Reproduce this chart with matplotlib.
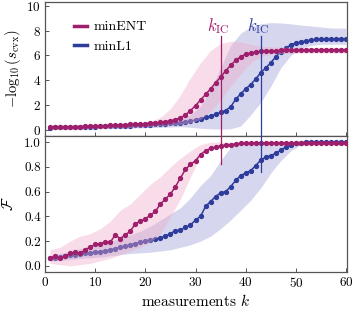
import matplotlib
matplotlib.use("Agg")
import matplotlib.pyplot as plt
from matplotlib.lines import Line2D
import numpy as np

plt.rcParams['font.family'] = 'cmr10'
plt.rcParams['mathtext.fontset'] = 'cm'
plt.rcParams['axes.formatter.use_mathtext'] = True

k = np.arange(1, 61)

ent_s = [0.20, 0.21, 0.22, 0.23, 0.24, 0.25, 0.26, 0.27, 0.28, 0.30,
         0.31, 0.33, 0.35, 0.37, 0.39, 0.41, 0.43, 0.45, 0.47, 0.50,
         0.53, 0.56, 0.60, 0.65, 0.72, 0.82, 0.95, 1.20, 1.55, 1.95,
         2.40, 2.85, 3.30, 3.80, 4.25, 4.75, 5.20, 5.60, 5.90, 6.10,
         6.20, 6.27, 6.32, 6.35, 6.37, 6.38, 6.40, 6.41, 6.42, 6.42,
         6.43, 6.43, 6.44, 6.44, 6.44, 6.45, 6.45, 6.45, 6.45, 6.45]
l1_s = [0.18, 0.19, 0.20, 0.21, 0.22, 0.22, 0.23, 0.24, 0.25, 0.26,
        0.27, 0.28, 0.29, 0.30, 0.31, 0.33, 0.34, 0.36, 0.38, 0.40,
        0.42, 0.44, 0.46, 0.49, 0.52, 0.55, 0.58, 0.63, 0.70, 0.80,
        0.90, 1.00, 1.10, 1.25, 1.40, 1.55, 1.85, 2.45, 2.90, 3.30,
        3.65, 4.10, 4.60, 5.00, 5.40, 5.90, 6.30, 6.60, 6.85, 7.00,
        7.10, 7.15, 7.25, 7.30, 7.30, 7.32, 7.32, 7.33, 7.33, 7.33]
ent_f = [0.06, 0.08, 0.06, 0.08, 0.10, 0.11, 0.10, 0.13, 0.15, 0.175,
         0.18, 0.19, 0.19, 0.25, 0.22, 0.25, 0.28, 0.34, 0.36, 0.38,
         0.41, 0.44, 0.50, 0.54, 0.58, 0.64, 0.71, 0.78, 0.82, 0.85,
         0.90, 0.93, 0.95, 0.96, 0.97, 0.975, 0.98, 0.985, 0.99, 0.99,
         0.992, 0.995, 0.995, 0.995, 0.995, 0.995, 0.995, 0.995, 0.995, 0.995,
         0.995, 0.995, 0.995, 0.995, 0.995, 0.995, 0.995, 0.995, 0.995, 0.995]
l1_f = [0.06, 0.065, 0.07, 0.08, 0.085, 0.09, 0.095, 0.10, 0.105, 0.11,
        0.115, 0.12, 0.13, 0.14, 0.15, 0.16, 0.17, 0.18, 0.19, 0.20,
        0.21, 0.215, 0.225, 0.24, 0.26, 0.285, 0.29, 0.31, 0.33, 0.37,
        0.40, 0.48, 0.52, 0.56, 0.59, 0.60, 0.64, 0.69, 0.73, 0.75,
        0.77, 0.81, 0.855, 0.88, 0.89, 0.91, 0.935, 0.96, 0.975, 0.99,
        0.995, 1.0, 1.0, 1.0, 1.0, 1.0, 1.0, 1.0, 1.0, 1.0]

# uncertainty bands, sampled every other measurement
kb = [1, 3, 5, 7, 9, 11, 13, 15, 17, 19, 21, 23, 25, 27, 29, 31, 33, 35, 37, 39,
      41, 43, 45, 47, 49, 51, 53, 55, 57, 60]
ent_s_hi = [0.35, 0.37, 0.39, 0.41, 0.43, 0.45, 0.48, 0.51, 0.55, 0.60,
            0.70, 1.00, 1.70, 2.80, 4.20, 5.40, 6.40, 6.95, 7.15, 7.10,
            6.90, 6.75, 6.70, 6.68, 6.66, 6.65, 6.65, 6.65, 6.65, 6.65]
ent_s_lo = [0.05, 0.06, 0.07, 0.08, 0.09, 0.10, 0.12, 0.14, 0.17, 0.20,
            0.25, 0.30, 0.35, 0.40, 0.55, 0.85, 1.50, 2.40, 3.50, 4.50,
            5.40, 5.90, 6.10, 6.15, 6.18, 6.20, 6.20, 6.20, 6.20, 6.20]
l1_s_hi = [0.30, 0.32, 0.34, 0.36, 0.38, 0.40, 0.43, 0.46, 0.50, 0.55,
           0.60, 0.66, 0.75, 0.90, 1.20, 1.90, 3.20, 5.00, 6.80, 7.80,
           8.30, 8.55, 8.65, 8.62, 8.55, 8.45, 8.38, 8.30, 8.22, 8.20]
l1_s_lo = [0.05, 0.06, 0.07, 0.08, 0.09, 0.10, 0.11, 0.12, 0.14, 0.16,
           0.18, 0.20, 0.22, 0.25, 0.20, 0.12, 0.08, 0.05, 0.08, 0.30,
           1.20, 2.20, 3.50, 5.00, 6.00, 6.60, 6.80, 6.90, 6.90, 6.90]
ent_f_hi = [0.13, 0.15, 0.20, 0.24, 0.26, 0.30, 0.36, 0.45, 0.50, 0.58,
            0.66, 0.72, 0.80, 0.87, 0.93, 0.98, 1.00, 1.00, 1.00, 1.00,
            1.00, 1.00, 1.00, 1.00, 1.00, 1.00, 1.00, 1.00, 1.00, 1.00]
ent_f_lo = [0.02, 0.01, 0.00, 0.01, 0.02, 0.04, 0.06, 0.09, 0.12, 0.15,
            0.19, 0.26, 0.40, 0.54, 0.72, 0.89, 0.94, 0.96, 0.975, 0.985,
            0.99, 0.99, 0.99, 0.99, 0.99, 0.99, 0.99, 0.99, 0.99, 0.99]
l1_f_hi = [0.08, 0.10, 0.12, 0.14, 0.16, 0.18, 0.20, 0.22, 0.25, 0.28,
           0.32, 0.37, 0.42, 0.47, 0.55, 0.65, 0.73, 0.85, 0.96, 1.00,
           1.00, 1.00, 1.00, 1.00, 1.00, 1.00, 1.00, 1.00, 1.00, 1.00]
l1_f_lo = [0.04, 0.045, 0.05, 0.06, 0.065, 0.07, 0.08, 0.09, 0.10, 0.105,
           0.11, 0.12, 0.13, 0.15, 0.17, 0.20, 0.24, 0.30, 0.37, 0.45,
           0.53, 0.63, 0.75, 0.85, 0.93, 0.98, 1.00, 1.00, 1.00, 1.00]

k_ic_ent = 35
k_ic_l1 = 43
series_names = ['minENT', 'minL1']

c_ent = '#9e1f6c'
c_l1 = '#2e3d9c'
c_ent_band = '#f0a8c8'
c_l1_band = '#8c8fd0'
spine_c = '#555555'

fig = plt.figure(figsize=(3.53, 3.09), dpi=100)
ax1 = fig.add_axes([0.1275, 0.560, 0.8555, 0.435])
ax2 = fig.add_axes([0.1275, 0.1197, 0.8555, 0.4403])

def draw(ax, ent, l1, e_lo, e_hi, b_lo, b_hi):
    ax.fill_between(kb, b_lo, b_hi, color=c_l1_band, alpha=0.35, lw=0, zorder=1)
    ax.plot(k, l1, '-o', color=c_l1, lw=1.1, ms=2.8, zorder=2)
    ax.fill_between(kb, e_lo, e_hi, color=c_ent_band, alpha=0.4, lw=0, zorder=3)
    ax.plot(k, ent, '-o', color=c_ent, lw=1.1, ms=2.8, zorder=4)

draw(ax1, ent_s, l1_s, ent_s_lo, ent_s_hi, l1_s_lo, l1_s_hi)
draw(ax2, ent_f, l1_f, ent_f_lo, ent_f_hi, l1_f_lo, l1_f_hi)

ax1.set_xlim(0, 60.2)
ax2.set_xlim(0, 60.2)
ax1.set_ylim(-0.5, 10.35)
ax2.set_ylim(-0.05, 1.05)

ax1.set_yticks([0, 2, 4, 6, 8, 10])
ax2.set_yticks([0.0, 0.2, 0.4, 0.6, 0.8, 1.0])
ax2.set_yticklabels(['0.0', '0.2', '0.4', '0.6', '0.8', '1.0'])
for ax in (ax1, ax2):
    ax.set_xticks([0, 10, 20, 30, 40, 50, 60])
    ax.tick_params(direction='in', length=3, width=0.7, color=spine_c,
                   labelsize=9.5, pad=3)
    for s in ax.spines.values():
        s.set_color(spine_c)
        s.set_linewidth(0.9)
ax1.tick_params(labelbottom=False)

# k_IC markers spanning both panels
for kk, c, lo in [(k_ic_ent, c_ent, 0.82), (k_ic_l1, c_l1, 0.76)]:
    ax1.plot([kk, kk], [7.55, -0.5], color=c, lw=0.9, zorder=5)
    ax2.plot([kk, kk], [1.05, lo], color=c, lw=0.9, zorder=5)
    ax1.text(kk - 0.4, 7.6, r'$k_{\rm IC}$', color=c, fontsize=12,
             ha='center', va='bottom')

ax1.set_ylabel(r'$-\log_{10}(s_{\rm cvx})$', fontsize=10.5, labelpad=2)
ax2.set_ylabel(r'$\mathcal{F}$', fontsize=11, labelpad=6)
ax2.set_xlabel(r'measurements $k$', fontsize=11, labelpad=2)

handles = [Line2D([0], [0], color=c_ent, lw=2.5),
           Line2D([0], [0], color=c_l1, lw=2.5)]
ax1.legend(handles, series_names, loc='upper left', frameon=False,
           fontsize=10, handlelength=0.9, handletextpad=0.5,
           borderaxespad=0.3, bbox_to_anchor=(0.065, 0.93), labelspacing=0.5)

fig.savefig('out.png', dpi=100)
